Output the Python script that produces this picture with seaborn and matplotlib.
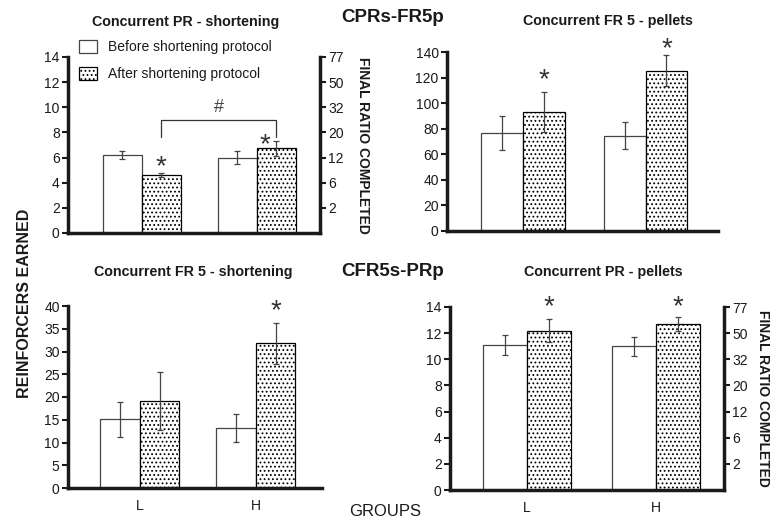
import matplotlib.pyplot as plt
import matplotlib.patches as mpatches
import pandas as pd
import seaborn as sns

# Groups and protocol conditions
groups = ['L', 'H']
conditions = ['Before shortening protocol', 'After shortening protocol']

# CPRs-FR5p: concurrent PR (shortening)
pr_short_before = [6.2, 6.0]
pr_short_after = [4.6, 6.75]
pr_short_before_err = [0.34, 0.49]
pr_short_after_err = [0.18, 0.6]

# CPRs-FR5p: concurrent FR 5 (pellets)
fr5_pel_before = [76.5, 74.4]
fr5_pel_after = [93.0, 125.4]
fr5_pel_before_err = [13.4, 10.5]
fr5_pel_after_err = [15.7, 12.3]

# CFR5s-PRp: concurrent FR 5 (shortening)
fr5_short_before = [15.1, 13.2]
fr5_short_after = [19.2, 31.8]
fr5_short_before_err = [3.85, 3.05]
fr5_short_after_err = [6.35, 4.55]

# CFR5s-PRp: concurrent PR (pellets)
pr_pel_before = [11.1, 11.0]
pr_pel_after = [12.2, 12.7]
pr_pel_before_err = [0.75, 0.72]
pr_pel_after_err = [0.85, 0.51]

# Significance asterisks above the "after" bars: (group index, height)
pr_short_stars = [(0, 5.9), (1, 7.65)]
fr5_pel_stars = [(0, 124.8), (1, 148.3)]
fr5_short_stars = [(1, 40.7)]
pr_pel_stars = [(0, 14.6), (1, 14.6)]

# '#' bracket between after-L and after-H (leg bottom, top)
bracket_y = [7.6, 9.0]
hash_y = 10.0

# PR schedule: reinforcers earned -> final ratio completed
pr_reinf = [2, 4, 6, 8, 10, 12, 14]
pr_ratio = [2, 6, 12, 20, 32, 50, 77]

INK = '#1a1a1a'
DOTS = '....'

sns.set_style('ticks')
plt.rcParams['font.family'] = ['Liberation Sans', 'DejaVu Sans']
plt.rcParams['hatch.linewidth'] = 0.8
plt.rcParams['text.color'] = INK

fig = plt.figure(figsize=(7.82, 5.27), dpi=100)
W, H = 782, 527


def px_axes(left, top, right, bottom):
    # axes from pixel box
    return fig.add_axes([left / W, 1 - bottom / H, (right - left) / W, (bottom - top) / H])


def star(ax, x, y):
    ax.annotate('*', xy=(x, y), xytext=(0, -11), textcoords='offset points',
                ha='center', va='baseline', fontsize=20, color='#333333',
                annotation_clip=False)


def draw_panel(ax, before, after, before_err, after_err, ylim, yticks, xlim, stars, show_x):
    df = pd.DataFrame({'group': groups * 2,
                       'condition': [conditions[0]] * 2 + [conditions[1]] * 2,
                       'value': before + after})
    sns.barplot(data=df, x='group', y='value', hue='condition', hue_order=conditions,
                palette=['white', 'white'], width=0.68, errorbar=None,
                edgecolor='#444444', linewidth=0.9, legend=False, ax=ax)

    errs = [before_err, after_err]
    bar_sets = list(ax.containers)
    centers = []
    for k, cont in enumerate(bar_sets):
        row = []
        for p, e in zip(cont.patches, errs[k]):
            if k == 1:
                p.set_hatch(DOTS)
                p.set_edgecolor('black')
            x = p.get_x() + p.get_width() / 2
            row.append(x)
            ax.errorbar(x, p.get_height(), yerr=e, fmt='none', ecolor='#444444',
                        elinewidth=0.9, capsize=2.5, capthick=0.9)
        centers.append(row)

    for gi, y in stars:
        star(ax, centers[1][gi], y)

    ax.set_xlim(xlim)
    ax.set_ylim(ylim)
    ax.set_yticks(yticks)
    ax.set_xlabel('')
    ax.set_ylabel('')
    for s in ['top', 'right']:
        ax.spines[s].set_visible(False)
    for s in ['left', 'bottom']:
        ax.spines[s].set_linewidth(2.5)
        ax.spines[s].set_color(INK)
    ax.tick_params(axis='y', length=4, width=1.5, labelsize=10, pad=2, colors=INK)
    ax.tick_params(axis='x', length=0, labelsize=10, pad=8, colors=INK)
    if not show_x:
        ax.set_xticklabels([])
    return centers


def add_ratio_axis(ax, label_x):
    ax2 = ax.twinx()
    ax2.set_ylim(ax.get_ylim())
    ax2.set_yticks(pr_reinf, labels=[str(r) for r in pr_ratio])
    for s in ['top', 'left', 'bottom']:
        ax2.spines[s].set_visible(False)
    ax2.spines['right'].set_linewidth(2.5)
    ax2.spines['right'].set_color(INK)
    ax2.tick_params(axis='y', length=4, width=1.5, labelsize=10, pad=2, colors=INK)
    ax.text(label_x, 0.5, 'FINAL RATIO COMPLETED', transform=ax.transAxes, rotation=270,
            ha='center', va='center', fontsize=10, fontweight='bold')
    return ax2


# Top left: concurrent PR - shortening
ax1 = px_axes(68, 57, 320, 233)
c1 = draw_panel(ax1, pr_short_before, pr_short_after, pr_short_before_err, pr_short_after_err,
                (0, 14), range(0, 15, 2), (-0.64, 1.55), [], False)
# H asterisk sits left of the bracket leg
star(ax1, c1[1][0], pr_short_stars[0][1])
star(ax1, c1[1][1] - 0.1, pr_short_stars[1][1])
ax1.plot([c1[1][0], c1[1][0], c1[1][1], c1[1][1]],
         [bracket_y[0], bracket_y[1], bracket_y[1], bracket_y[0]], color='#333333', lw=0.9)
ax1.text((c1[1][0] + c1[1][1]) / 2, hash_y, '#', ha='center', va='center', fontsize=13, color='#444444')
add_ratio_axis(ax1, 1.17)

# Top right: concurrent FR 5 - pellets
ax2 = px_axes(447, 52, 718, 231)
draw_panel(ax2, fr5_pel_before, fr5_pel_after, fr5_pel_before_err, fr5_pel_after_err,
           (0, 140), range(0, 141, 20), (-0.62, 1.59), fr5_pel_stars, False)

# Bottom left: concurrent FR 5 - shortening
ax3 = px_axes(68, 306, 322, 488)
draw_panel(ax3, fr5_short_before, fr5_short_after, fr5_short_before_err, fr5_short_after_err,
           (0, 40), range(0, 41, 5), (-0.62, 1.57), fr5_short_stars, True)

# Bottom right: concurrent PR - pellets
ax4 = px_axes(450, 307, 724, 490)
draw_panel(ax4, pr_pel_before, pr_pel_after, pr_pel_before_err, pr_pel_after_err,
           (0, 14), range(0, 15, 2), (-0.60, 1.53), pr_pel_stars, True)
add_ratio_axis(ax4, 1.142)


# Titles and shared labels
def ftext(x, y, s, **kw):
    fig.text(x / W, 1 - y / H, s, ha='center', va='center', **kw)


ftext(186, 22, 'Concurrent PR - shortening', fontsize=10.3, fontweight='bold')
ftext(608, 21, 'Concurrent FR 5 - pellets', fontsize=10.3, fontweight='bold')
ftext(193, 272, 'Concurrent FR 5 - shortening', fontsize=10.3, fontweight='bold')
ftext(603, 272, 'Concurrent PR - pellets', fontsize=10.3, fontweight='bold')
ftext(393, 18, 'CPRs-FR5p', fontsize=13.5, fontweight='bold')
ftext(393, 272, 'CFR5s-PRp', fontsize=13.5, fontweight='bold')
ftext(385, 511, 'GROUPS', fontsize=12)
ftext(25, 303, 'REINFORCERS EARNED', fontsize=11.5, fontweight='bold', rotation=90)

handles = [mpatches.Patch(facecolor='white', edgecolor='#444444', linewidth=0.9),
           mpatches.Patch(facecolor='white', edgecolor='black', hatch=DOTS, linewidth=0.9)]
fig.legend(handles, conditions, loc='upper left', bbox_to_anchor=(79 / W, 1 - 40 / H),
           frameon=False, fontsize=10, handlelength=1.3, handleheight=1.1,
           handletextpad=0.8, labelspacing=0.9, borderaxespad=0, borderpad=0)

fig.savefig('out.png', dpi=100)
